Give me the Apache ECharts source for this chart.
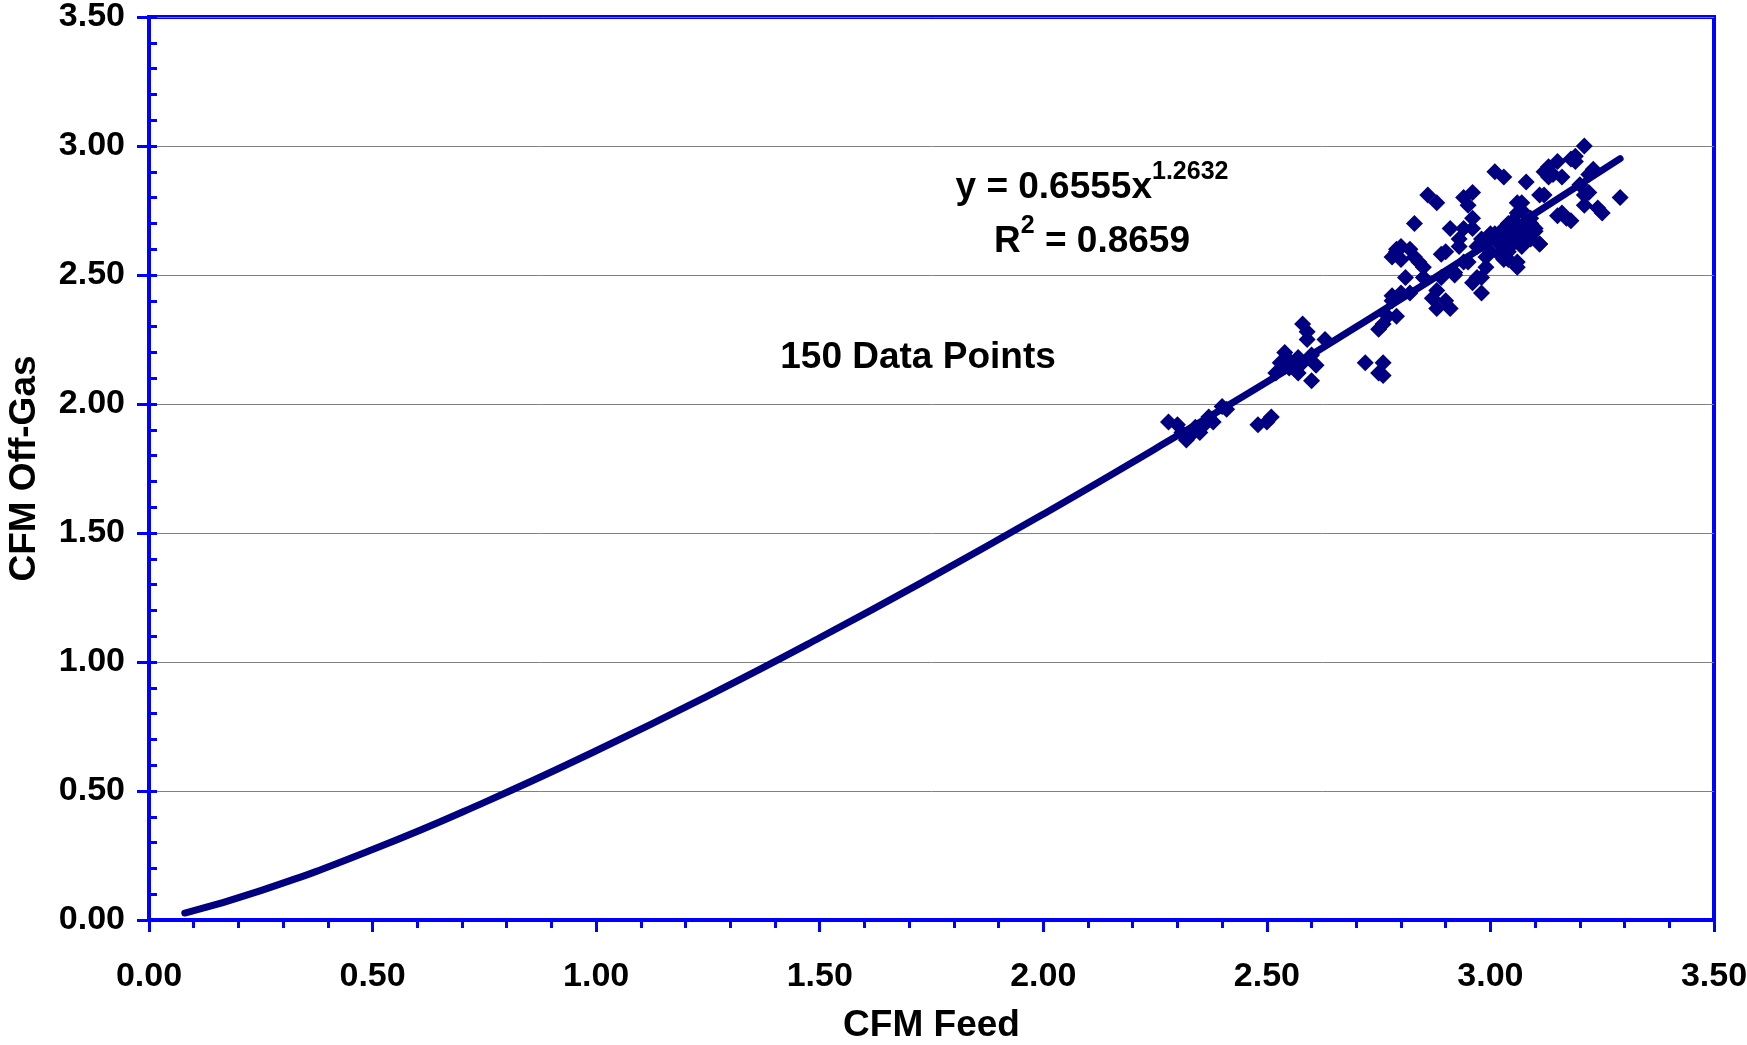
<!DOCTYPE html>
<html>
<head>
<meta charset="utf-8">
<script src="https://cdn.jsdelivr.net/npm/echarts@6/dist/echarts.min.js"></script>
<style>
html,body{margin:0;padding:0;background:#fff;}
#chart{width:1747px;height:1045px;}
</style>
</head>
<body>
<div id="chart"></div>
<script>
// CFM Feed (x) and CFM Off-Gas (y) for the 150 data points
var feed = [2.28,2.30,2.31,2.32,2.33,2.35,2.36,2.37,2.38,2.40,2.41,2.48,2.50,2.51,2.52,2.53,2.54,2.55,2.56,2.57,
2.57,2.58,2.58,2.59,2.59,2.60,2.60,2.61,2.63,2.72,2.75,2.76,2.76,2.75,2.76,2.77,2.78,2.78,2.78,2.79,
2.80,2.80,2.81,2.82,2.83,2.83,2.85,2.85,2.86,2.88,2.87,2.88,2.88,2.89,2.90,2.90,2.91,2.91,2.92,2.93,
2.94,2.94,2.94,2.95,2.96,2.96,2.96,2.97,2.98,2.95,2.97,2.98,2.99,2.99,3.00,3.01,3.03,3.01,3.02,3.03,
3.03,3.04,3.04,3.05,3.05,3.06,3.06,3.06,3.07,3.07,3.08,3.08,3.09,3.09,3.10,3.11,3.11,3.12,3.13,3.14,
3.15,3.15,3.16,3.17,3.18,3.19,3.19,3.20,3.21,3.21,3.21,3.22,3.23,3.24,3.25,3.29,2.79,2.82,2.84,2.80,
2.79,2.92,2.96,2.98,3.02,3.04,3.06,3.05,3.07,3.08,3.10,3.11,3.06,3.07,3.12,3.03,3.05,3.07,2.89,2.93,
3.00,3.13,3.18,3.22,3.16,2.57,2.55,2.34,3.09,3.04];
var offGas = [1.93,1.92,1.89,1.86,1.88,1.89,1.92,1.95,1.93,1.99,1.98,1.92,1.93,1.95,2.12,2.16,2.20,2.14,2.14,2.18,
2.12,2.16,2.31,2.28,2.25,2.19,2.09,2.15,2.25,2.16,2.12,2.16,2.11,2.29,2.31,2.34,2.42,2.40,2.57,2.59,
2.56,2.61,2.49,2.43,2.57,2.70,2.53,2.49,2.81,2.78,2.41,2.37,2.44,2.49,2.59,2.40,2.37,2.68,2.51,2.64,
2.55,2.68,2.80,2.77,2.82,2.68,2.72,2.49,2.43,2.55,2.61,2.64,2.57,2.53,2.59,2.90,2.88,2.66,2.62,2.68,
2.56,2.64,2.59,2.68,2.71,2.65,2.55,2.74,2.78,2.61,2.64,2.86,2.70,2.64,2.68,2.62,2.81,2.90,2.92,2.89,
2.94,2.73,2.74,2.72,2.71,2.96,2.94,2.85,3.00,2.77,2.81,2.89,2.91,2.76,2.74,2.80,2.60,2.60,2.55,2.43,
2.34,2.50,2.47,2.49,2.58,2.56,2.53,2.66,2.69,2.67,2.67,2.62,2.78,2.75,2.81,2.60,2.62,2.63,2.58,2.61,
2.66,2.88,2.95,2.82,2.88,2.15,2.17,1.91,2.72,2.70];
// Power trendline
var trendX = [0.08,0.25,0.50,0.75,1.00,1.25,1.50,1.75,2.00,2.25,2.50,2.75,3.00,3.29];
var trendY = [0.027,0.114,0.273,0.456,0.656,0.869,1.094,1.329,1.573,1.826,2.085,2.353,2.627,2.951];
var axisTicks = [0, 0.5, 1.0, 1.5, 2.0, 2.5, 3.0, 3.5];

var points = feed.map(function(x, i){ return [x, offGas[i]]; });
var trend = trendX.map(function(x, i){ return [x, trendY[i]]; });

var BLUE = '#0000ff', NAVY = '#000080';
var FONT = '"Liberation Sans", Arial, sans-serif';
var chart = echarts.init(document.getElementById('chart'), null, {renderer:'canvas'});
var labelStyle = {color:'#000', fontFamily:FONT, fontWeight:'bold', fontSize:34,
  formatter:function(v){ return Number(v).toFixed(2); }};
chart.setOption({
  animation:false,
  backgroundColor:'#fff',
  grid:{left:149, right:33, top:17, bottom:125, containLabel:false, outerBoundsMode:'none', show:true,
        borderColor:BLUE, borderWidth:4, backgroundColor:'transparent'},
  xAxis:{type:'value', min:axisTicks[0], max:axisTicks[axisTicks.length-1], interval:0.5,
    name:'CFM Feed', nameLocation:'middle', nameGap:87, nameMoveOverlap:false,
    nameTextStyle:{color:'#000', fontFamily:FONT, fontWeight:'bold', fontSize:37},
    axisLine:{show:true, onZero:false, lineStyle:{color:BLUE, width:4}},
    axisTick:{show:true, inside:false, length:12, lineStyle:{color:BLUE, width:3}},
    minorTick:{show:true, splitNumber:5, length:8, lineStyle:{color:BLUE, width:3}},
    axisLabel:Object.assign({margin:40}, labelStyle),
    splitLine:{show:false}},
  yAxis:[{type:'value', min:axisTicks[0], max:axisTicks[axisTicks.length-1], interval:0.5,
    name:'CFM Off-Gas', nameLocation:'middle', nameGap:106, nameRotate:90, nameMoveOverlap:false,
    nameTextStyle:{color:'#000', fontFamily:FONT, fontWeight:'bold', fontSize:37},
    axisLine:{show:true, onZero:false, lineStyle:{color:BLUE, width:4}},
    axisTick:{show:true, inside:false, length:12, lineStyle:{color:BLUE, width:3}},
    axisLabel:Object.assign({margin:24}, labelStyle),
    splitLine:{show:true, lineStyle:{color:'#808080', width:1}}},
   {type:'value', position:'left', min:axisTicks[0], max:axisTicks[axisTicks.length-1], interval:0.5,
    axisLine:{show:false},
    axisTick:{show:true, inside:true, length:8, lineStyle:{color:BLUE, width:3}},
    minorTick:{show:true, splitNumber:5, length:8, lineStyle:{color:BLUE, width:3}},
    axisLabel:{show:false}, splitLine:{show:false}}],
  series:[
    {type:'scatter', name:'CFM Off-Gas', data:points, symbol:'diamond', symbolSize:17,
     itemStyle:{color:NAVY, opacity:1}, z:2},
    {type:'line', name:'Power trend', data:trend, smooth:true, showSymbol:false, symbol:'none',
     lineStyle:{color:NAVY, width:7, cap:'round'}, z:3}
  ],
  graphic:[
    {type:'text', x:1092, y:183, z:10, style:{
      text:'{m|y = 0.6555x}{s|1.2632}', align:'center', verticalAlign:'middle',
      rich:{m:{fontFamily:FONT, fontWeight:'bold', fontSize:37, fill:'#000', lineHeight:46, verticalAlign:'bottom'},
            s:{fontFamily:FONT, fontWeight:'bold', fontSize:25, fill:'#000', lineHeight:46, verticalAlign:'top'}}}},
    {type:'text', x:1092, y:237, z:10, style:{
      text:'{m|R}{s|2}{m| = 0.8659}', align:'center', verticalAlign:'middle',
      rich:{m:{fontFamily:FONT, fontWeight:'bold', fontSize:37, fill:'#000', lineHeight:46, verticalAlign:'bottom'},
            s:{fontFamily:FONT, fontWeight:'bold', fontSize:25, fill:'#000', lineHeight:46, verticalAlign:'top'}}}},
    {type:'text', x:918, y:358, z:10, style:{
      text:'150 Data Points', align:'center', verticalAlign:'middle',
      fontFamily:FONT, fontWeight:'bold', fontSize:37, fill:'#000'}}
  ]
});
</script>
</body>
</html>
